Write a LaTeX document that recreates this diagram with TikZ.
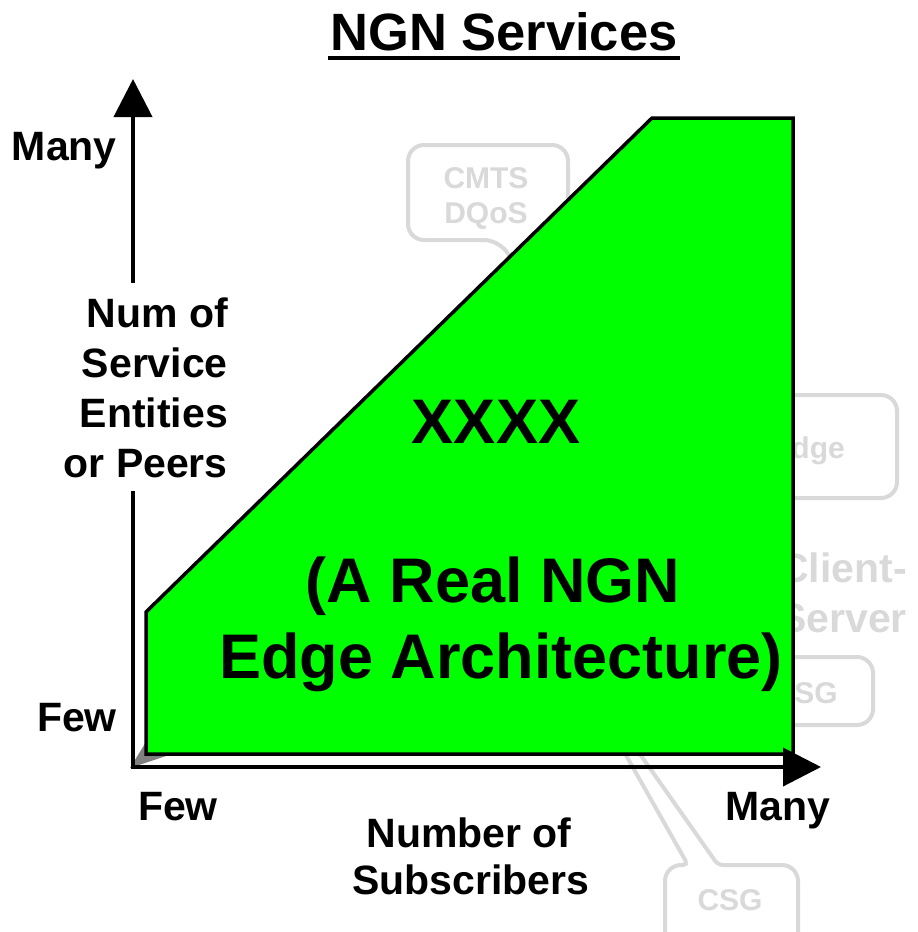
\documentclass[tikz,border=0pt]{standalone}
\usepackage{fontspec}
\setmainfont{Liberation Sans}
\usepackage{tikz}
\usetikzlibrary{positioning,arrows.meta}
\definecolor{ngngreen}{RGB}{0,255,0}
\definecolor{ghostgray}{RGB}{217,217,217}
\definecolor{tailgray}{RGB}{128,128,128}

\begin{document}
\begin{tikzpicture}[x=1pt,y=-1pt,
lbl/.style={font=\fontsize{41}{50}\selectfont\bfseries, inner sep=0pt, anchor=base},
big/.style={font=\fontsize{63}{76}\selectfont\bfseries, inner sep=0pt, anchor=base},
ghost/.style={font=\fontsize{30}{36}\selectfont\bfseries, text=ghostgray, inner sep=0pt, anchor=base},
ghostbig/.style={ghost, font=\fontsize{41}{50}\selectfont\bfseries},
bubble/.style={draw=ghostgray, line width=4pt, fill=white, rounded corners=16pt},
axis/.style={line width=4pt, line cap=rect, -{Triangle[length=38pt,width=38pt]}},
]
\useasboundingbox (0,0) rectangle (918,932);

%Title
\node[font=\fontsize{52.5}{60}\selectfont\bfseries, inner sep=0pt, anchor=base] (title) at (504,50) {NGN Services};
\draw[line width=4.5pt] ([xshift=-2pt,yshift=-8pt]title.base west) -- ([xshift=2pt,yshift=-8pt]title.base east);

%Faded callouts
\draw[bubble] (500,240) -- (408,240) -- (408,145) -- (568,145) -- (568,240) -- (517,240) -- (535,300) -- cycle;
\node[ghost] (cmts) at (486,188) {CMTS};
\node[ghost] (dqos) at (486,223) {DQoS};

\draw[bubble] (740,395) rectangle (897,498);
\node[ghost, anchor=base east] (edge) at (845,458) {Edge};

\node[ghostbig] (client) at (843,582) {Client-};
\node[ghostbig] (server) at (843,632) {Server};

\draw[bubble] (740,657) rectangle (873,725);
\node[ghost, anchor=base east] (sg) at (838,703) {SG};

\draw[bubble, rounded corners=5pt] (566,649) -- (688,865)
  [rounded corners=16pt] -- (665,865) -- (665,960) -- (798,960) -- (798,865)
  [rounded corners=5pt] -- (718,865) -- cycle;
\node[ghost] (csg) at (730,910) {CSG};

\fill[tailgray] (130,768) -- (146,742) -- (190,748) -- cycle;

%Green area
\draw[line width=3.5pt, fill=ngngreen] (146,612) -- (652,118) -- (793,118) -- (793,754) -- (146,754) -- cycle;
\node[big] (xxxx) at (496,443) {XXXX};
\node[big] (real) at (493,602) {(A Real NGN};
\node[big] (arch) at (501,678) {Edge Architecture)};

%Axes
\coordinate (origin) at (133,767);
\coordinate (ytip) at (133,79);
\coordinate (xtip) at (821,767);
\draw[axis] (origin) -- (ytip);
\draw[axis] (origin) -- (xtip);

%Y labels
\node[lbl, anchor=base east] (ymany) at (117,160) {Many};
\node[lbl, anchor=base east] (yfew) at (117,731) {Few};
\node[lbl, anchor=base east, fill=white, inner ysep=14pt] (num) at (228,327) {Num of};
\node[lbl, anchor=base east, fill=white, inner ysep=14pt] (serv) at (228,377) {Service};
\node[lbl, anchor=base east, fill=white, inner ysep=14pt] (ent) at (228,427) {Entities};
\node[lbl, anchor=base east, fill=white, inner ysep=14pt] (peers) at (228,477) {or Peers};

%X labels
\node[lbl] (xfew) at (178,820) {Few};
\node[lbl] (xmany) at (778,820) {Many};
\node[lbl] (nsub1) at (469,847) {Number of};
\node[lbl] (nsub2) at (471,894) {Subscribers};
\end{tikzpicture}
\end{document}
